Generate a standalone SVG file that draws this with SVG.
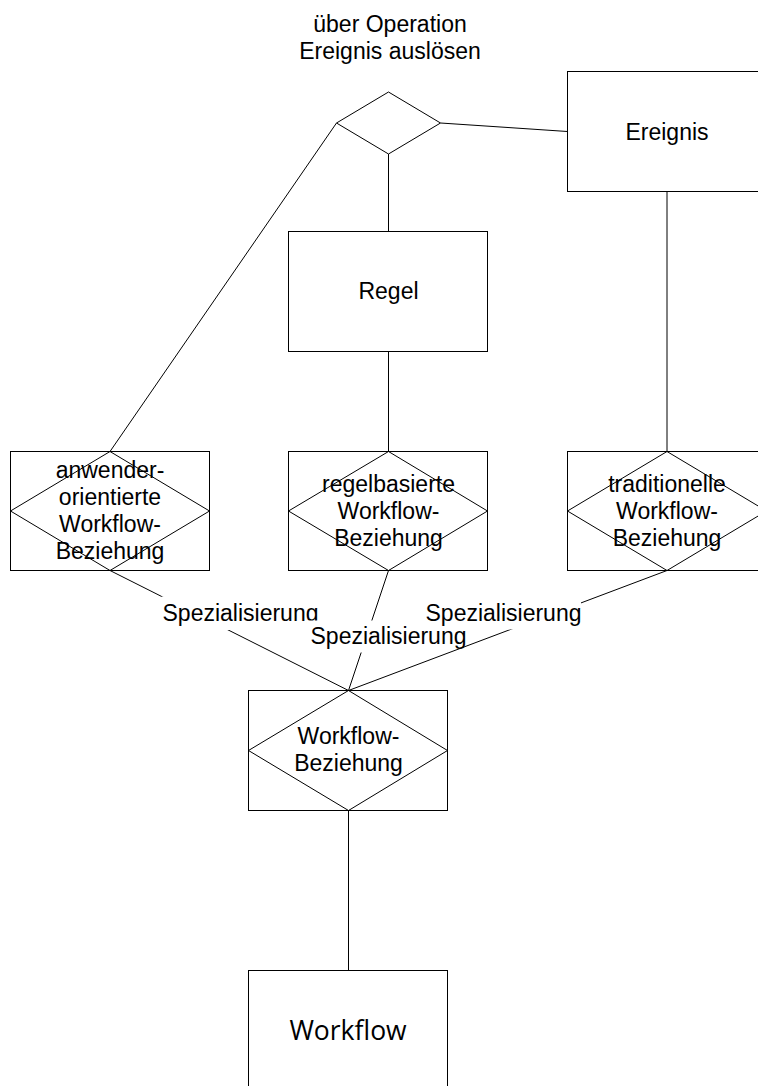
<svg xmlns="http://www.w3.org/2000/svg" width="758" height="1086" viewBox="0 0 758 1086">
  <style>
    .shape { fill: #ffffff; stroke: #000000; stroke-width: 1; }
    .diamond { fill: none; stroke: #000000; stroke-width: 1; }
    .line { fill: none; stroke: #000000; stroke-width: 1; }
    .lbl { font-family: "Liberation Sans", Arial, sans-serif; font-size: 23px; fill: #000000; text-anchor: middle; }
    .big { font-family: "Open Sans", "Noto Sans", sans-serif; font-size: 26.5px; fill: #000000; text-anchor: middle; }
    .mask { fill: #ffffff; stroke: none; }
  </style>
  <rect width="758" height="1086" fill="#ffffff"/>

  <!-- connectors -->
  <g id="connectors">
    <line class="line" x1="388.5" y1="154" x2="388.5" y2="231.5"/>
    <line class="line" x1="388.5" y1="351.5" x2="388.5" y2="451.5"/>
    <line class="line" x1="440.5" y1="123" x2="567.5" y2="131.5"/>
    <line class="line" x1="336.5" y1="123" x2="110" y2="451.5"/>
    <line class="line" x1="667" y1="191.5" x2="667" y2="451.5"/>
    <line class="line" x1="348.5" y1="810.5" x2="348.5" y2="970.5"/>

    <!-- specialisation links, each with its own label plate -->
    <g id="spec-left">
      <line class="line" x1="110" y1="570.5" x2="348.5" y2="690.5"/>
      <rect class="mask" x="161.5" y="596.5" width="158" height="33.5"/>
      <text class="lbl" x="240.5" y="620.5">Spezialisierung</text>
    </g>
    <g id="spec-middle">
      <line class="line" x1="388.5" y1="570.5" x2="348.5" y2="690.5"/>
      <rect class="mask" x="307" y="620.5" width="162" height="32"/>
      <text class="lbl" x="388.5" y="643.5">Spezialisierung</text>
    </g>
    <g id="spec-right">
      <line class="line" x1="667" y1="570.5" x2="348.5" y2="690.5"/>
      <rect class="mask" x="424" y="597" width="157" height="32.5"/>
      <text class="lbl" x="503.5" y="620.5">Spezialisierung</text>
    </g>
  </g>

  <!-- relationship: trigger event via operation -->
  <g id="trigger">
    <polygon class="shape" points="336.5,123 388.5,92 440.5,123 388.5,154"/>
    <text class="lbl" x="390" y="32">über Operation</text>
    <text class="lbl" x="390" y="59">Ereignis auslösen</text>
  </g>

  <g id="ereignis">
    <rect class="shape" x="567.5" y="71.5" width="199" height="120"/>
    <text class="lbl" x="667" y="139.5">Ereignis</text>
  </g>

  <g id="regel">
    <rect class="shape" x="288.5" y="231.5" width="199" height="120"/>
    <text class="lbl" x="388.5" y="299">Regel</text>
  </g>

  <g id="anwender">
    <rect class="shape" x="10.5" y="451.5" width="199" height="119"/>
    <polygon class="diamond" points="10.5,511 110,451.5 209.5,511 110,570.5"/>
    <text class="lbl" x="110" y="478">anwender-</text>
    <text class="lbl" x="110" y="505">orientierte</text>
    <text class="lbl" x="110" y="532">Workflow-</text>
    <text class="lbl" x="110" y="559">Beziehung</text>
  </g>

  <g id="regelbasiert">
    <rect class="shape" x="288.5" y="451.5" width="199" height="119"/>
    <polygon class="diamond" points="288.5,511 388.5,451.5 487.5,511 388.5,570.5"/>
    <text class="lbl" x="388.5" y="491.5">regelbasierte</text>
    <text class="lbl" x="388.5" y="518.5">Workflow-</text>
    <text class="lbl" x="388.5" y="545.5">Beziehung</text>
  </g>

  <g id="traditionell">
    <rect class="shape" x="567.5" y="451.5" width="199" height="119"/>
    <polygon class="diamond" points="567.5,511 667,451.5 766.5,511 667,570.5"/>
    <text class="lbl" x="667" y="491.5">traditionelle</text>
    <text class="lbl" x="667" y="518.5">Workflow-</text>
    <text class="lbl" x="667" y="545.5">Beziehung</text>
  </g>

  <g id="workflow-beziehung">
    <rect class="shape" x="248.5" y="690.5" width="199" height="120"/>
    <polygon class="diamond" points="248.5,750.5 348.5,690.5 447.5,750.5 348.5,810.5"/>
    <text class="lbl" x="348.5" y="744">Workflow-</text>
    <text class="lbl" x="348.5" y="771">Beziehung</text>
  </g>

  <g id="workflow">
    <rect class="shape" x="248.5" y="970.5" width="199" height="120"/>
    <text class="big" x="348" y="1039.5">Workflow</text>
  </g>
</svg>
